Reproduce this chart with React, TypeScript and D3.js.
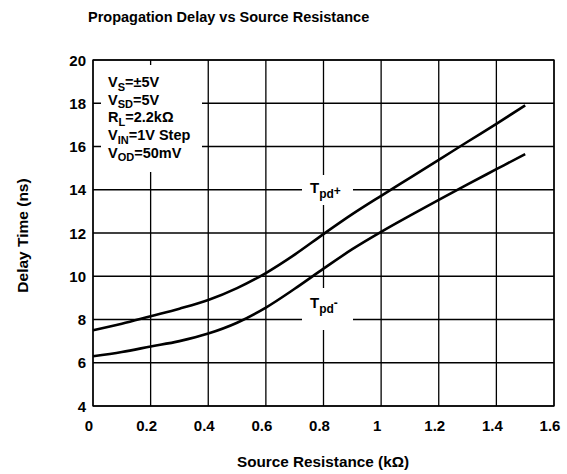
import React, { useRef, useEffect } from "react";
import * as d3 from "d3";

// source resistance (kOhm)
const resistance = [0, 0.1, 0.2, 0.3, 0.4, 0.5, 0.6, 0.7, 0.8, 0.9, 1.0, 1.1, 1.2, 1.3, 1.4, 1.5];
// delay time (ns)
const tpdPlus = [7.5, 7.8, 8.15, 8.5, 8.9, 9.45, 10.15, 11.0, 11.95, 12.87, 13.72, 14.55, 15.38, 16.22, 17.05, 17.9];
const tpdMinus = [6.3, 6.5, 6.75, 7.0, 7.35, 7.85, 8.55, 9.42, 10.35, 11.25, 12.05, 12.8, 13.53, 14.25, 14.95, 15.65];

const xTicks = [0, 0.2, 0.4, 0.6, 0.8, 1, 1.2, 1.4, 1.6];
const yTicks = [4, 6, 8, 10, 12, 14, 16, 18, 20];

const W = 567;
const H = 474;
const FONT = "'Liberation Sans', Arial, sans-serif";

const App = () => {
  const svgRef = useRef<SVGSVGElement>(null);

  useEffect(() => {
    const svg = d3.select(svgRef.current);
    svg.selectAll("*").remove();

    const padding = { top: 60, right: 13, bottom: 68, left: 93 };
    const width = W - padding.left - padding.right;
    const height = H - padding.top - padding.bottom;

    const x = d3.scaleLinear().domain([0, 1.6]).range([0, width]);
    const y = d3.scaleLinear().domain([4, 20]).range([height, 0]);

    svg
      .append("text")
      .attr("x", 88)
      .attr("y", 22)
      .attr("font-family", FONT)
      .attr("font-weight", "bold")
      .attr("font-size", 14.5)
      .text("Propagation Delay vs Source Resistance");

    const g = svg.append("g").attr("transform", `translate(${padding.left},${padding.top})`);

    // grid
    g.selectAll("line.vg")
      .data(xTicks)
      .enter()
      .append("line")
      .attr("x1", (d) => x(d))
      .attr("x2", (d) => x(d))
      .attr("y1", 0)
      .attr("y2", height)
      .attr("stroke", "#000")
      .attr("stroke-width", 1.3);

    g.selectAll("line.hg")
      .data(yTicks)
      .enter()
      .append("line")
      .attr("x1", 0)
      .attr("x2", width)
      .attr("y1", (d) => y(d))
      .attr("y2", (d) => y(d))
      .attr("stroke", "#000")
      .attr("stroke-width", 1.3);

    // white boxes behind annotations
    const boxes = [
      { x: 8, y: 5, w: 101, h: 107 },
      { x: 209, y: 115, w: 51, h: 30 },
      { x: 209, y: 228, w: 51, h: 42 },
    ];
    g.selectAll("rect.box")
      .data(boxes)
      .enter()
      .append("rect")
      .attr("x", (d) => d.x)
      .attr("y", (d) => d.y)
      .attr("width", (d) => d.w)
      .attr("height", (d) => d.h)
      .attr("fill", "#fff");

    // border
    g.append("rect")
      .attr("width", width)
      .attr("height", height)
      .attr("fill", "none")
      .attr("stroke", "#000")
      .attr("stroke-width", 1.3);

    // curves
    const line = d3
      .line<number>()
      .x((d, i) => x(resistance[i]))
      .y((d) => y(d))
      .curve(d3.curveMonotoneX);

    [tpdPlus, tpdMinus].forEach((s) => {
      g.append("path")
        .attr("d", line(s))
        .attr("fill", "none")
        .attr("stroke", "#000")
        .attr("stroke-width", 2.6);
    });

    // tick labels
    g.selectAll("text.xt")
      .data(xTicks)
      .enter()
      .append("text")
      .attr("x", (d) => x(d) - 4)
      .attr("y", height + 25)
      .attr("text-anchor", "middle")
      .attr("font-family", FONT)
      .attr("font-weight", "bold")
      .attr("font-size", 15)
      .text((d) => String(d));

    g.selectAll("text.yt")
      .data(yTicks)
      .enter()
      .append("text")
      .attr("x", -7)
      .attr("y", (d) => y(d) + 5.5)
      .attr("text-anchor", "end")
      .attr("font-family", FONT)
      .attr("font-weight", "bold")
      .attr("font-size", 15)
      .text((d) => String(d));

    // axis titles
    svg
      .append("text")
      .attr("x", 323)
      .attr("y", 467)
      .attr("text-anchor", "middle")
      .attr("font-family", FONT)
      .attr("font-weight", "bold")
      .attr("font-size", 15.3)
      .text("Source Resistance (kΩ)");

    svg
      .append("text")
      .attr("transform", `translate(28,235.5) rotate(-90)`)
      .attr("text-anchor", "middle")
      .attr("font-family", FONT)
      .attr("font-weight", "bold")
      .attr("font-size", 15.5)
      .text("Delay Time (ns)");

    // conditions annotation
    const cond = [
      ["V", "S", "=±5V"],
      ["V", "SD", "=5V"],
      ["R", "L", "=2.2kΩ"],
      ["V", "IN", "=1V Step"],
      ["V", "OD", "=50mV"],
    ];
    cond.forEach((c, i) => {
      const t = g
        .append("text")
        .attr("x", 15)
        .attr("y", 27 + i * 17.7)
        .attr("font-family", FONT)
        .attr("font-weight", "bold")
        .attr("font-size", 14.5);
      t.append("tspan").text(c[0]);
      t.append("tspan").attr("dy", 3.5).attr("font-size", 11).text(c[1]);
      t.append("tspan").attr("dy", -3.5).text(c[2]);
    });

    // curve labels
    const tl = [
      { v: 14, off: 3, sign: "+", dy: -3 },
      { v: 8, off: -12, sign: "-", dy: -6 },
    ];
    tl.forEach((d) => {
      const t = g
        .append("text")
        .attr("x", 217)
        .attr("y", y(d.v) + d.off)
        .attr("font-family", FONT)
        .attr("font-weight", "bold")
        .attr("font-size", 15);
      t.append("tspan").text("T");
      t.append("tspan").attr("dy", 5).attr("font-size", 12).text("pd");
      t.append("tspan").attr("dy", d.dy).attr("font-size", 12).text(d.sign);
    });
  }, []);

  return (
    <svg
      ref={svgRef}
      width={W}
      height={H}
      style={{ position: "absolute", left: 0, top: 0, display: "block" }}
    />
  );
};

export default App;
